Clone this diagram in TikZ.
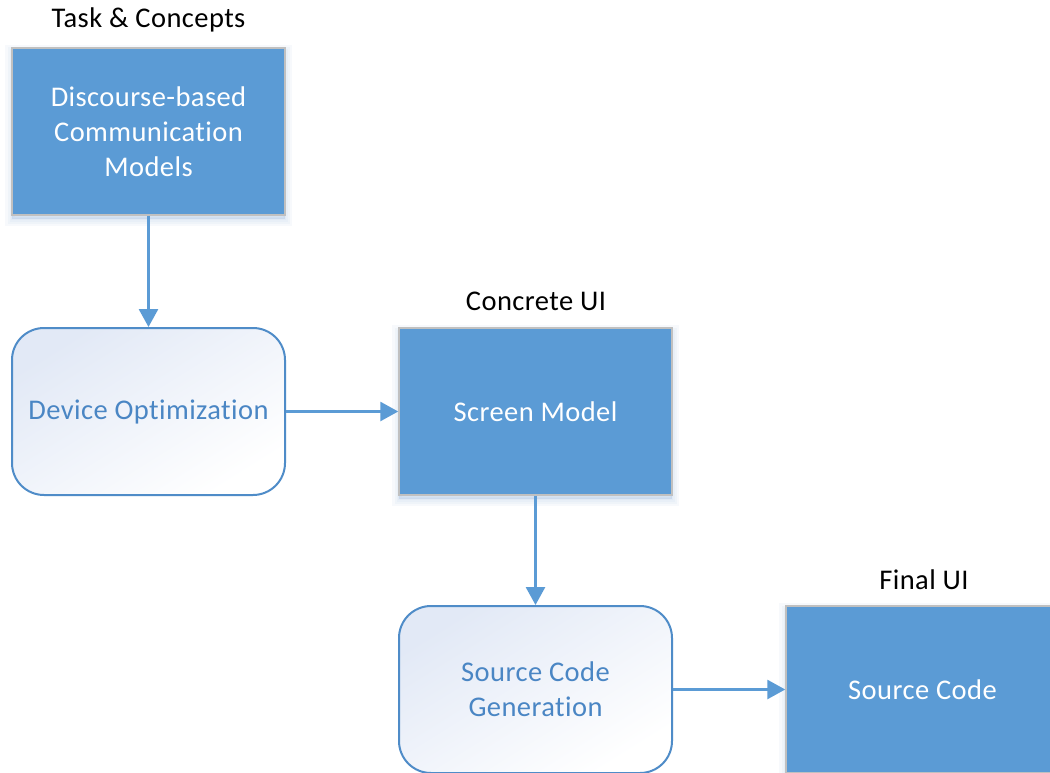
\documentclass[tikz,border=0pt]{standalone}
\usepackage{fontspec}
\setmainfont{Carlito}[LetterSpace=1.5, Ligatures={NoCommon}]
\usetikzlibrary{arrows.meta}
\definecolor{boxblue}{HTML}{5B9BD5}
\definecolor{edgeblue}{HTML}{4F8CC8}
\definecolor{textblue}{HTML}{4A86C4}
\definecolor{tint}{HTML}{E2E9F6}
\definecolor{rim}{HTML}{C0C0C0}
\definecolor{glow}{HTML}{8FB3DE}
\newcommand{\labelfont}{\fontsize{28.5}{35}\selectfont}
\tikzset{
  glow ring/.style={preaction={draw=glow, fill=glow, opacity=0.07, line width=#1,
    transform canvas={yshift=-4pt}}},
  solid box/.style={rectangle, draw=rim, line width=1.5pt, fill=boxblue,
    minimum width=273pt, minimum height=167pt, inner sep=0pt,
    text=white, align=center, font=\labelfont,
    glow ring=14pt, glow ring=9pt, glow ring=5pt, glow ring=2pt},
  process box/.style={rectangle, rounded corners=32pt, draw=edgeblue, line width=2pt,
    top color=tint, middle color=white, bottom color=white, shading angle=32,
    minimum width=273pt, minimum height=167pt, inner sep=0pt,
    text=textblue, align=center, font=\labelfont},
  caption/.style={text=black, font=\labelfont, inner sep=0pt},
  flow/.style={draw=boxblue, line width=2.8pt,
    -{Triangle[length=18pt,width=19pt]}}
}
\begin{document}
\begin{tikzpicture}[x=1pt,y=-1pt]
  \useasboundingbox (0,0) rectangle (1050,773);
  \clip (0,0) rectangle (1050,773);
  \fill[white] (0,0) rectangle (1050,773);

  % captions over the solid boxes
  \node[caption] (capA) at (148.5,20) {Task \& Concepts};
  \node[caption] (capB) at (536,301) {Concrete UI};
  \node[caption] (capC) at (924,580) {Final UI};

  % model and process boxes
  \node[solid box] (dcm) at (148.5,131.5) {Discourse-based\\Communication\\Models};
  \node[process box] (devopt) at (148.5,411.5) {Device Optimization};
  \node[solid box] (screen) at (535.5,411.5) {Screen Model};
  \node[process box] (codegen) at (535.5,689.5) {Source Code\\Generation};
  \node[solid box] (code) at (922.5,689.5) {Source Code};

  % flow between the stages
  \draw[flow] (dcm.south) -- (devopt.north);
  \draw[flow] (devopt.east) -- (screen.west);
  \draw[flow] (screen.south) -- (codegen.north);
  \draw[flow] (codegen.east) -- (code.west);
\end{tikzpicture}
\end{document}
